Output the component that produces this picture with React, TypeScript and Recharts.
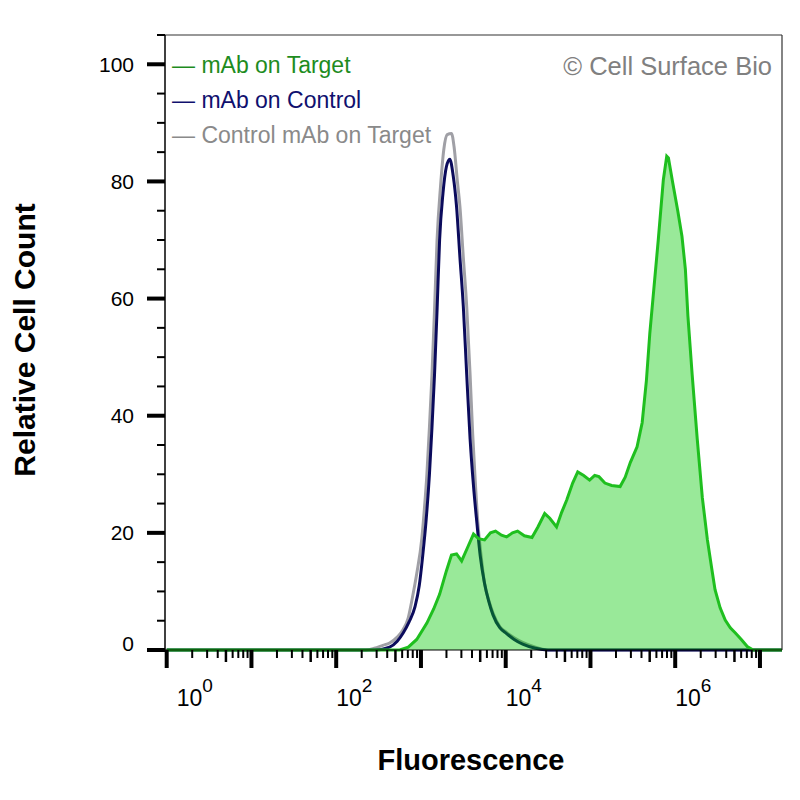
import { ComposedChart, XAxis, YAxis, Area, ReferenceLine } from 'recharts';

// x values are log10 of fluorescence intensity, y is relative cell count
const targetX = [
    0, 2.75, 2.85, 2.95, 3.07, 3.15, 3.22, 3.3, 3.36, 3.42, 3.48, 3.55, 3.62, 3.68, 3.75, 3.82, 3.88,
    3.95, 4.01, 4.08, 4.14, 4.22, 4.31, 4.38, 4.46, 4.52, 4.6, 4.66, 4.72, 4.79, 4.85, 4.92, 4.99,
    5.05, 5.1, 5.17, 5.25, 5.35, 5.41, 5.47, 5.55, 5.61, 5.66, 5.7, 5.75, 5.8, 5.86, 5.9, 5.92, 5.97,
    6.03, 6.08, 6.12, 6.15, 6.2, 6.26, 6.32, 6.38, 6.43, 6.47, 6.53, 6.59, 6.65, 6.71, 6.78, 6.85,
    6.92, 7.26
];
const targetY = [
    0, 0, 0.5, 1.8, 4.6, 7, 9.5, 13.5, 16.2, 16.4, 15.2, 17.5, 19.8, 19, 18.8, 20, 20.3,
    19.6, 19.3, 20, 20.3, 19.5, 19.2, 21, 23.3, 22.5, 21, 23.5, 25.6, 28.5, 30.4, 29.8, 29,
    29.8, 29.6, 28.5, 28.1, 27.9, 29.5, 32, 34.7, 38.8, 46, 54, 62, 70, 80.3, 84.3, 84, 79.8,
    75, 70.6, 65, 57, 47, 36, 26, 18.8, 14, 10.3, 7.2, 5.1, 3.8, 2.9, 1.8, 0.6,
    0, 0
];

const controlX = [
    0, 2.45, 2.63, 2.72, 2.79, 2.86, 2.93, 2.98, 3.02, 3.06, 3.1, 3.13, 3.16, 3.19, 3.22, 3.26, 3.3,
    3.34, 3.38, 3.42, 3.46, 3.5, 3.54, 3.58, 3.62, 3.66, 3.7, 3.75, 3.8, 3.85, 3.93, 4.01, 4.1, 4.2,
    4.35, 4.5, 7.26
];
const controlY = [
    0, 0, 0.5, 1.5, 2.9, 4.8, 7.4, 11, 16, 22, 30, 38, 47, 58, 70, 78, 82.5,
    83.8, 81, 75.7, 67, 58.6, 47, 36, 28, 21.7, 16, 11.4, 8.3, 6, 3.8, 2.8, 1.8, 1,
    0.3, 0, 0
];

const isotypeX = [
    0, 2.35, 2.45, 2.55, 2.63, 2.72, 2.79, 2.85, 2.9, 2.95, 3.01, 3.04, 3.07, 3.1, 3.13, 3.16, 3.19,
    3.23, 3.27, 3.31, 3.36, 3.39, 3.43, 3.46, 3.5, 3.54, 3.58, 3.61, 3.64, 3.67, 3.71, 3.75, 3.8,
    3.85, 3.93, 4.01, 4.1, 4.2, 4.35, 4.5, 7.26
];
const isotypeY = [
    0, 0, 0.3, 0.8, 1.2, 2.2, 3.5, 5.5, 9, 13, 19, 24, 30, 38, 47, 58, 70,
    79, 85.5, 88, 88.2, 86, 80, 75.7, 67, 58.6, 47, 37, 29, 22, 16, 11.4, 8.5,
    6.3, 4, 3, 2.1, 1.3, 0.5, 0, 0
];

const seriesNames = ['mAb on Target', 'mAb on Control', 'Control mAb on Target'];
const yTicks = [0, 5, 10, 15, 20, 25, 30, 35, 40, 45, 50, 55, 60, 65, 70, 75, 80, 85, 90, 95, 100, 105];
const decades = [0, 1, 2, 3, 4, 5, 6, 7];
const labelledDecades = [0, 2, 4, 6];

const X_MIN = -0.02;
const X_MAX = 7.26;
const Y_MAX = 105;

const xTicks: number[] = [];
decades.forEach((d) => {
    for (let k = 1; k <= 9; k++) {
        const v = d + Math.log10(k);
        if (v <= X_MAX) xTicks.push(v);
    }
});

const toData = (xs: number[], ys: number[]) => xs.map((x, i) => ({ x, y: ys[i] }));
const targetData = toData(targetX, targetY);
const controlData = toData(controlX, controlY);
const isotypeData = toData(isotypeX, isotypeY);

const FONT = '"Liberation Sans", Arial, Helvetica, sans-serif';

const XTick = (props: any) => {
    const { x, y, payload } = props;
    const v = payload.value;
    const d = Math.floor(v + 1e-6);
    const k = Math.round(Math.pow(10, v - d));
    const major = k === 1;
    const len = major ? 18 : k === 5 ? 12 : 8;
    const w = major ? 4 : k === 5 ? 2.5 : 2;
    return (
        <g>
            <line x1={x} x2={x} y1={y} y2={y + len} stroke="#000" strokeWidth={w} />
            {major && labelledDecades.includes(d) && (
                <text x={x + (d === 0 ? 10 : 0)} y={y + 56} fontFamily={FONT} fontSize={23} fill="#000">
                    <tspan>10</tspan>
                    <tspan dy={-14} fontSize={19}>{d}</tspan>
                </text>
            )}
        </g>
    );
};

const YTick = (props: any) => {
    const { x, y, payload } = props;
    const v = payload.value;
    const major = v % 20 === 0;
    return (
        <g>
            <line x1={x - (major ? 18 : 8)} x2={x} y1={y} y2={y} stroke="#000" strokeWidth={major ? 4 : 2} />
            {major && (
                <text
                    x={x - 31}
                    y={y + (v === 0 ? -7 : 0)}
                    dy="0.36em"
                    textAnchor="end"
                    fontFamily={FONT}
                    fontSize={21}
                    fill="#000"
                >
                    {v}
                </text>
            )}
        </g>
    );
};

const legendColors = ['#1e8c1e', '#10106e', '#8a8a8a'];

const App = () => {
    return (
        <div style={{ position: 'relative', width: 792, height: 792 }}>
            <ComposedChart width={792} height={792} margin={{ top: 27, right: 18, left: 0, bottom: 0 }}>
                <XAxis
                    type="number"
                    dataKey="x"
                    domain={[X_MIN, X_MAX]}
                    ticks={xTicks}
                    interval={0}
                    tick={<XTick />}
                    tickLine={false}
                    tickSize={0}
                    tickMargin={0}
                    height={150}
                    axisLine={{ stroke: '#000', strokeWidth: 1 }}
                />
                <YAxis
                    type="number"
                    domain={[0, Y_MAX]}
                    ticks={yTicks}
                    interval={0}
                    tick={<YTick />}
                    tickLine={false}
                    tickSize={0}
                    tickMargin={0}
                    width={157}
                    axisLine={{ stroke: '#000', strokeWidth: 1.5 }}
                />
                <ReferenceLine y={Y_MAX} stroke="#333" strokeWidth={1.2} />
                <ReferenceLine x={X_MAX} stroke="#333" strokeWidth={1.2} />
                {/* control histograms are unfilled areas so the target fill can sit on top of them */}
                <Area
                    data={isotypeData}
                    dataKey="y"
                    type="monotone"
                    stroke="#a0a0a6"
                    strokeWidth={3}
                    fill="none"
                    dot={false}
                    activeDot={false}
                    isAnimationActive={false}
                />
                <Area
                    data={controlData}
                    dataKey="y"
                    type="monotone"
                    stroke="#0b0b5c"
                    strokeWidth={3}
                    fill="none"
                    dot={false}
                    activeDot={false}
                    isAnimationActive={false}
                />
                <Area
                    data={targetData}
                    dataKey="y"
                    type="linear"
                    stroke="#1fbf1f"
                    strokeWidth={3}
                    fill="#00c800"
                    fillOpacity={0.4}
                    dot={false}
                    activeDot={false}
                    isAnimationActive={false}
                />
            </ComposedChart>
            <svg
                width={792}
                height={792}
                style={{ position: 'absolute', left: 0, top: 0, pointerEvents: 'none' }}
            >
                {seriesNames.map((name, i) => (
                    <text key={name} x={164} y={65 + i * 35} fontFamily={FONT} fontSize={23} fill={legendColors[i]}>
                        {'\u2014 ' + name}
                    </text>
                ))}
                <text x={764} y={67} textAnchor="end" fontFamily={FONT} fontSize={25.5} fill="#808080">
                    © Cell Surface Bio
                </text>
                <text x={463} y={762} textAnchor="middle" fontFamily={FONT} fontSize={29} fontWeight="bold" fill="#000">
                    Fluorescence
                </text>
                <text
                    x={27}
                    y={332}
                    transform="rotate(-90, 27, 332)"
                    textAnchor="middle"
                    fontFamily={FONT}
                    fontSize={30}
                    fontWeight="bold"
                    fill="#000"
                >
                    Relative Cell Count
                </text>
            </svg>
        </div>
    );
};

export default App;
